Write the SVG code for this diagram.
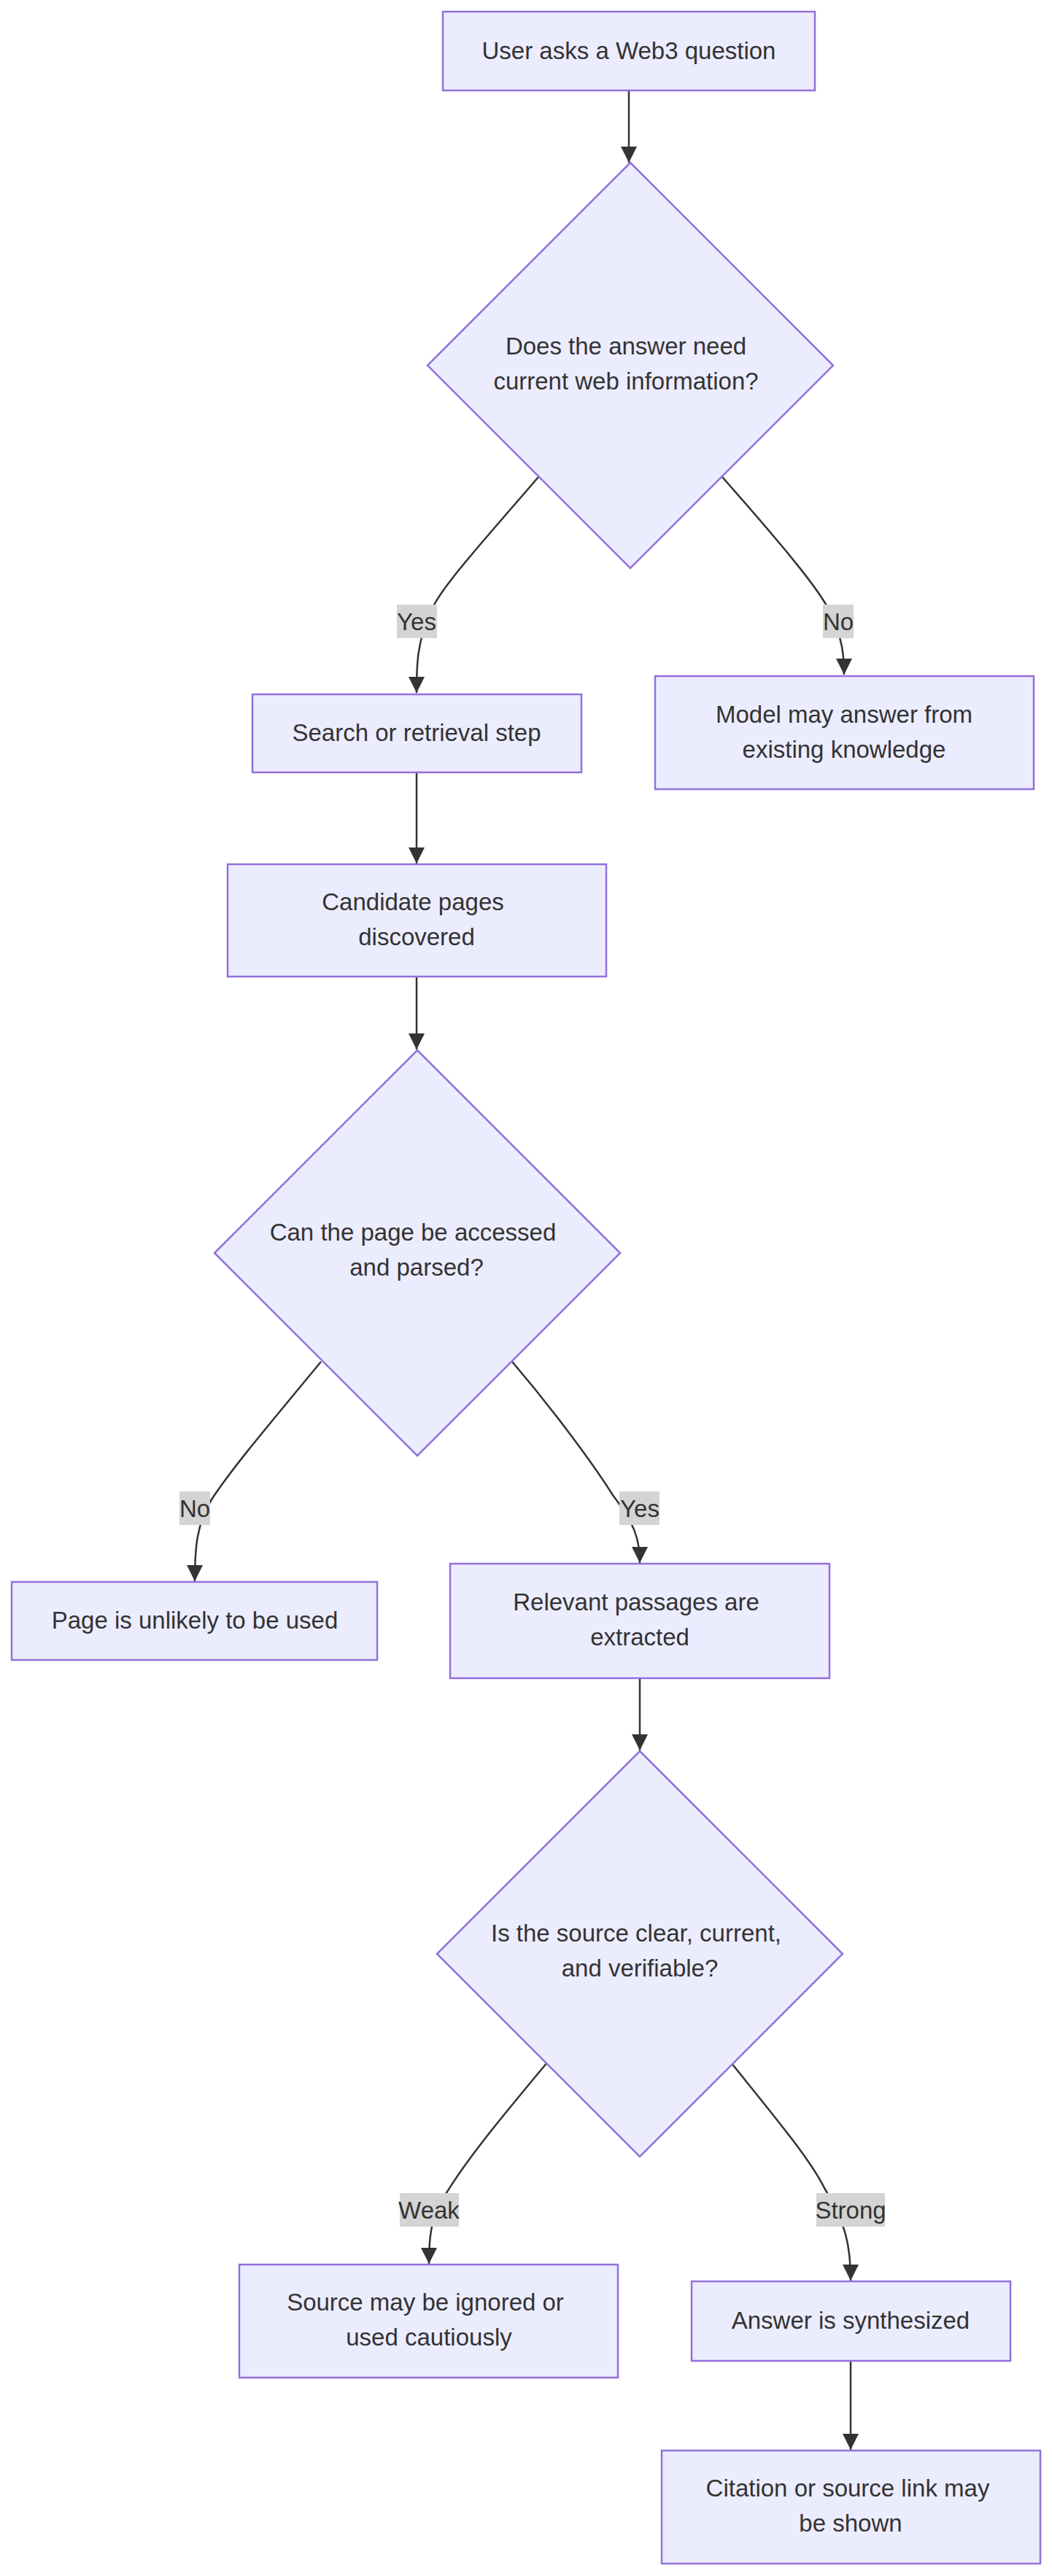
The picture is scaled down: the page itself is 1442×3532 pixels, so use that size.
<svg xmlns="http://www.w3.org/2000/svg" width="1442" height="3532" viewBox="0 0 1442 3532">
<style>
.n{fill:#ECECFF;stroke:#9370DB;stroke-width:2.5}
.t{font-family:"Liberation Sans",Arial,sans-serif;font-size:33px;fill:#333;text-anchor:middle}
.e{fill:none;stroke:#333;stroke-width:2.5}
.lb{fill:#d4d4d4}
</style>
<defs><marker id="a" viewBox="0 0 10 10" refX="10" refY="5" markerWidth="9" markerHeight="9" markerUnits="userSpaceOnUse" orient="auto"><path d="M0,0L10,5L0,10z" fill="#333"/></marker>
<marker id="b" viewBox="0 0 10 10" refX="10" refY="5" markerWidth="22" markerHeight="22" markerUnits="userSpaceOnUse" orient="auto"><path d="M0,0L10,5L0,10z" fill="#333"/></marker></defs>
<g id="edges">
<path class="e" marker-end="url(#b)" d="M862,124V223"/>
<path class="e" marker-end="url(#b)" d="M738,654C660,745 600,810 590,840C572,880 571,910 571,950"/>
<path class="e" marker-end="url(#b)" d="M990,654C1070,745 1125,810 1138,840C1155,875 1157,900 1157,925"/>
<path class="e" marker-end="url(#b)" d="M571,1059V1184"/>
<path class="e" marker-end="url(#b)" d="M571,1339V1439"/>
<path class="e" marker-end="url(#b)" d="M440,1867C380,1940 320,2010 290,2056C270,2090 267,2120 267,2168"/>
<path class="e" marker-end="url(#b)" d="M702,1867C760,1935 815,2010 840,2050C870,2090 877,2110 877,2143"/>
<path class="e" marker-end="url(#b)" d="M877,2301V2400"/>
<path class="e" marker-end="url(#b)" d="M750,2828C690,2900 640,2960 610,3010C590,3040 588,3070 588,3104"/>
<path class="e" marker-end="url(#b)" d="M1002,2828C1060,2900 1110,2960 1130,3000C1160,3050 1166,3080 1166,3127"/>
<path class="e" marker-end="url(#b)" d="M1166,3237V3359"/>
</g>
<g id="lbl-yes1"><rect class="lb" x="544" y="829" width="55" height="46"/><text class="t" x="571" y="864">Yes</text></g>
<g id="lbl-no1"><rect class="lb" x="1128" y="829" width="42" height="46"/><text class="t" x="1149" y="864">No</text></g>
<g id="lbl-no2"><rect class="lb" x="246" y="2045" width="42" height="46"/><text class="t" x="267" y="2080">No</text></g>
<g id="lbl-yes2"><rect class="lb" x="849" y="2045" width="55" height="46"/><text class="t" x="877" y="2080">Yes</text></g>
<g id="lbl-weak"><rect class="lb" x="548" y="3007" width="81" height="46"/><text class="t" x="588" y="3042">Weak</text></g>
<g id="lbl-strong"><rect class="lb" x="1119" y="3007" width="94" height="46"/><text class="t" x="1166" y="3042">Strong</text></g>
<g id="n1"><rect class="n" x="607" y="16" width="510" height="108"/><text class="t" x="862" y="81">User asks a Web3 question</text></g>
<g id="d1"><polygon class="n" points="864,223 1142,501 864,779 586,501"/><text class="t" x="858" y="486">Does the answer need</text><text class="t" x="858" y="534">current web information?</text></g>
<g id="n2"><rect class="n" x="346" y="952" width="451" height="107"/><text class="t" x="571" y="1016">Search or retrieval step</text></g>
<g id="n3"><rect class="n" x="898" y="927" width="519" height="155"/><text class="t" x="1157" y="991">Model may answer from</text><text class="t" x="1157" y="1039">existing knowledge</text></g>
<g id="n4"><rect class="n" x="312" y="1185" width="519" height="154"/><text class="t" x="566" y="1248">Candidate pages</text><text class="t" x="571" y="1296">discovered</text></g>
<g id="d2"><polygon class="n" points="572,1440 850,1718 572,1996 294,1718"/><text class="t" x="566" y="1701">Can the page be accessed</text><text class="t" x="571" y="1749">and parsed?</text></g>
<g id="n5"><rect class="n" x="16" y="2169" width="501" height="107"/><text class="t" x="267" y="2233">Page is unlikely to be used</text></g>
<g id="n6"><rect class="n" x="617" y="2144" width="520" height="157"/><text class="t" x="872" y="2208">Relevant passages are</text><text class="t" x="877" y="2256">extracted</text></g>
<g id="d3"><polygon class="n" points="877,2401 1155,2679 877,2957 599,2679"/><text class="t" x="872" y="2662">Is the source clear, current,</text><text class="t" x="877" y="2710">and verifiable?</text></g>
<g id="n7"><rect class="n" x="328" y="3105" width="519" height="155"/><text class="t" x="583" y="3168">Source may be ignored or</text><text class="t" x="588" y="3216">used cautiously</text></g>
<g id="n8"><rect class="n" x="948" y="3128" width="437" height="109"/><text class="t" x="1166" y="3193">Answer is synthesized</text></g>
<g id="n9"><rect class="n" x="907" y="3360" width="519" height="155"/><text class="t" x="1162" y="3423">Citation or source link may</text><text class="t" x="1166" y="3471">be shown</text></g>
</svg>
